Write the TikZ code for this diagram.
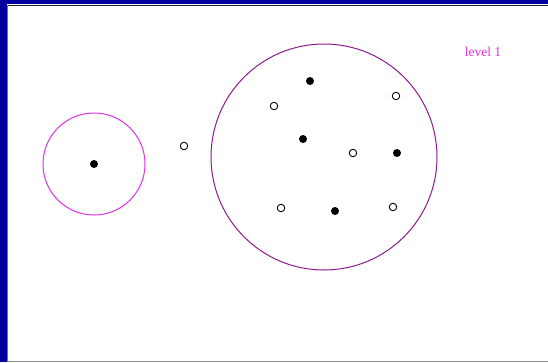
\documentclass[tikz,border=0pt]{standalone}
\usepackage{fontspec}
\setmainfont{Liberation Serif}
\definecolor{navyband}{HTML}{0000A0}
\definecolor{lvlmag}{HTML}{E030E0}
\definecolor{bigpurple}{HTML}{8E1A8E}
\begin{document}
\begin{tikzpicture}[x=1pt,y=-1pt,
  fulldot/.style={circle,fill=black,inner sep=0pt,minimum size=8pt},
  opendot/.style={circle,draw=black,line width=0.9pt,fill=white,inner sep=0pt,minimum size=7.5pt},
  ringsmall/.style={circle,draw=lvlmag,line width=1pt,inner sep=0pt,minimum size=102pt},
  ringbig/.style={circle,draw=bigpurple,line width=1pt,inner sep=0pt,minimum size=226pt}]
\useasboundingbox (0,0) rectangle (548,362);
\fill[white] (0,0) rectangle (548,362);
% frame
\fill[navyband] (0,0) rectangle (548,3.5);
\fill[navyband] (0,0) rectangle (6.5,362);
\draw[black!85,line width=1pt] (7,5.5) -- (548,5.5);
\draw[black!55,line width=1.2pt] (7.6,5) -- (7.6,362);
\draw[black!45,line width=1.2pt] (7,361.2) -- (548,361.2);
% circles
\node[ringsmall] (s) at (94,164) {};
\node[ringbig] (b) at (324,157) {};
% dots
\node[fulldot] (d0) at (94,164) {};
\node[opendot] (o0) at (184,146) {};
\node[fulldot] (d1) at (310,81) {};
\node[fulldot] (d2) at (303,139) {};
\node[fulldot] (d3) at (397,153) {};
\node[fulldot] (d4) at (335,211) {};
\node[opendot] (o1) at (274,106) {};
\node[opendot] (o2) at (396,96) {};
\node[opendot] (o3) at (353,153) {};
\node[opendot] (o4) at (281,208) {};
\node[opendot] (o5) at (393,207) {};
% label
\node[text=lvlmag,font=\fontsize{13.5}{15}\selectfont,inner sep=0pt] (lab) at (483,52) {level 1};
\end{tikzpicture}
\end{document}
